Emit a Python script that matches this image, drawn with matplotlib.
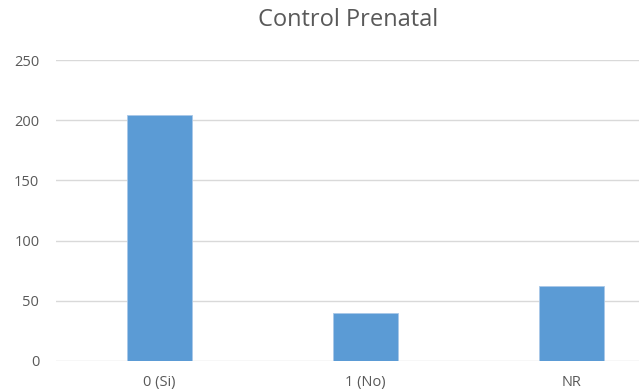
import matplotlib
matplotlib.use("Agg")
import matplotlib.pyplot as plt

categories = ["0 (Si)", "1 (No)", "NR"]
values = [204, 40, 62]
yticks = [0, 50, 100, 150, 200, 250]

W, H = 639, 392
fig = plt.figure(figsize=(W / 100, H / 100), dpi=100)
plt.rcParams["font.family"] = ["Open Sans", "DejaVu Sans"]

left, right = 56 / W, 675 / W
bottom, top = 1 - 360.7 / H, 1 - 60.2 / H
ax = fig.add_axes([left, bottom, right - left, top - bottom])

x = list(range(len(categories)))
ax.bar(x, values, width=0.315, color="#5b9bd5", edgecolor="#a9c8e8",
       linewidth=0.6, zorder=3)

ax.set_xlim(-0.5, len(categories) - 0.5)
ax.set_ylim(0, 250)
ax.set_yticks(yticks)
ax.set_xticks(x)
ax.set_xticklabels(categories)

ax.grid(axis="y", color="#d9d9d9", linewidth=1.0, zorder=0)
ax.set_axisbelow(True)
for s in ax.spines.values():
    s.set_visible(False)
ax.tick_params(axis="both", length=0, colors="#595959", labelsize=10.5)
ax.tick_params(axis="y", pad=12)
ax.tick_params(axis="x", pad=10)

fig.text(348 / W, 1 - 20 / H, "Control Prenatal", ha="center", va="center",
         fontsize=17, color="#595959")

fig.savefig("out.png", dpi=100)
